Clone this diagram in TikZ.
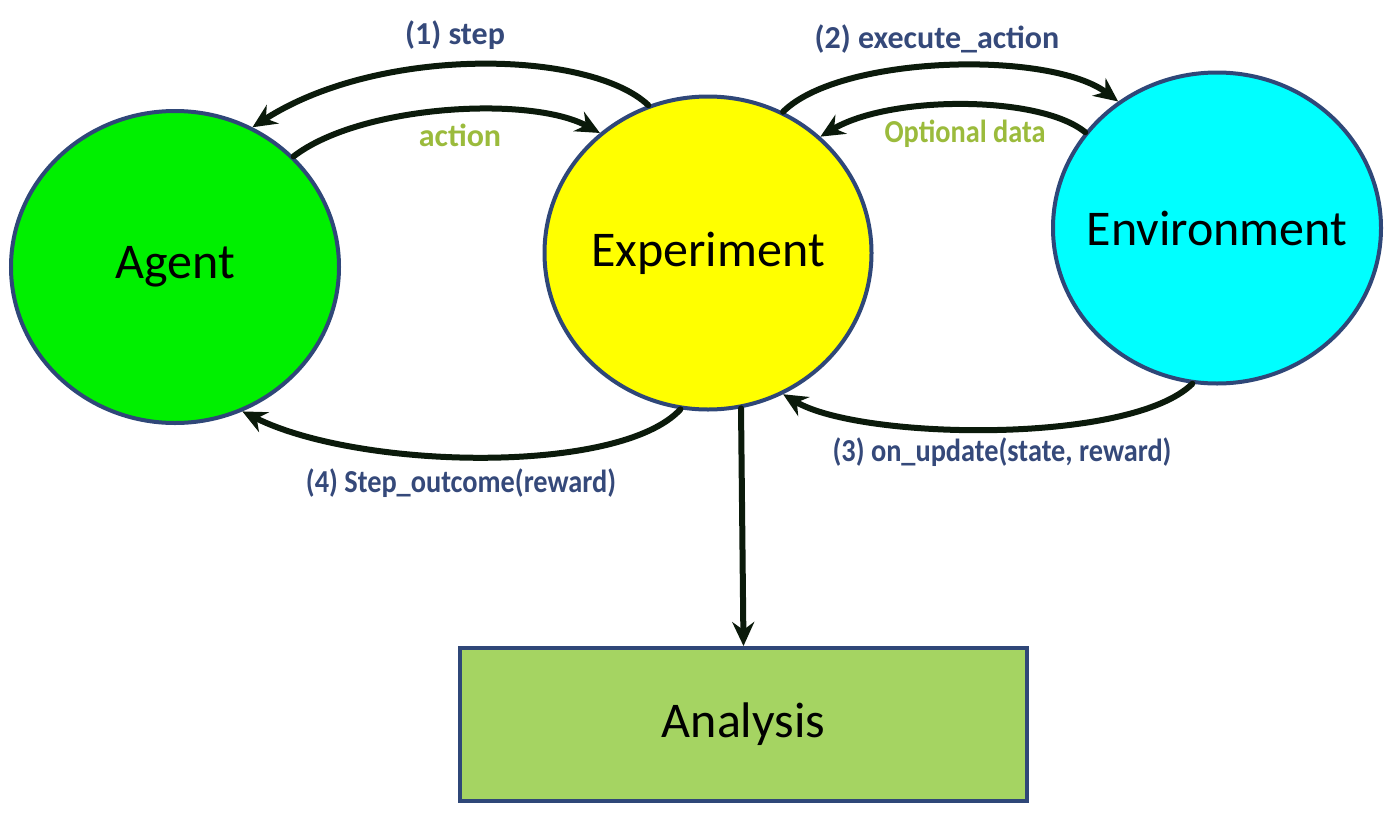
\documentclass[tikz,border=0pt]{standalone}
\usepackage{fontspec}
\setmainfont{Carlito}
\usetikzlibrary{shapes.geometric,arrows.meta}
\definecolor{lineblk}{HTML}{0B1A0B}
\definecolor{rimblue}{HTML}{2F4778}
\definecolor{lblblue}{HTML}{35497A}
\definecolor{lblgreen}{HTML}{9BBB3C}
\definecolor{agentgreen}{HTML}{00F000}
\definecolor{expyellow}{HTML}{FFFF00}
\definecolor{envcyan}{HTML}{00FFFF}
\definecolor{anagreen}{HTML}{A5D462}
\newcommand{\narrowtxt}[1]{\scalebox{0.885}[1]{#1}}
\newcommand{\zerow}[1]{\makebox[0pt]{#1}}
\tikzset{
  bubble/.style={ellipse, draw=rimblue, line width=4pt, inner sep=0pt,
    font=\fontsize{50}{60}\selectfont, text=black},
  anabox/.style={rectangle, draw=rimblue, line width=4pt, fill=anagreen,
    inner sep=0pt, font=\fontsize{50}{60}\selectfont, text=black},
  arr/.style={draw=lineblk, line width=6pt, line cap=round,
    -{Stealth[length=24pt,width=22pt,inset=8pt]}},
  bluelbl/.style={font=\bfseries\fontsize{32}{38}\selectfont, text=lblblue},
  greenlbl/.style={font=\bfseries\fontsize{32}{38}\selectfont, text=lblgreen},
}
\begin{document}
\begin{tikzpicture}[x=1pt,y=-1pt]
\useasboundingbox (0,0) rectangle (1400,822);
\fill[white] (0,0) rectangle (1400,822);

\node[bubble, fill=agentgreen, minimum width=328pt, minimum height=312pt] (agent) at (175,267) {\zerow{Agent}};
\node[bubble, fill=expyellow, minimum width=327pt, minimum height=313pt] (exp) at (708,253) {\zerow{Experiment}};
\node[bubble, fill=envcyan, minimum width=328pt, minimum height=311pt] (env) at (1217,228) {\zerow{Environment}};
\node[anabox, minimum width=567pt, minimum height=153pt] (ana) at (743.5,724.5) {Analysis};

% (1) step
\draw[arr] (exp.112) .. controls (590,50) and (380,45) .. (agent.61);
% action
\draw[arr] (agent.43) .. controls (360,105) and (530,95) .. (exp.132);
% (2) execute_action
\draw[arr] (exp.62) .. controls (840,55) and (1050,50) .. (env.128);
% Optional data
\draw[arr] (env.144) .. controls (1040,95) and (890,95) .. (exp.46);
% (3) on_update
\draw[arr] (env.261) .. controls (1130,445) and (860,440) .. (exp.298);
% (4) Step_outcome
\draw[arr] (exp.260) .. controls (620,475) and (360,470) .. (agent.295);
% to Analysis
\draw[arr] (exp.282) -- (ana.north);

\node[bluelbl] (l1) at (455,35) {(1) step};
\node[greenlbl] (la) at (460,135) {action};
\node[bluelbl] (l2) at (937,39) {(2) execute\_action};
\node[greenlbl] (lo) at (965,134) {\narrowtxt{Optional data}};
\node[bluelbl] (l3) at (1002,452) {\narrowtxt{(3) on\_update(state, reward)}};
\node[bluelbl] (l4) at (461,483) {\narrowtxt{(4) Step\_outcome(reward)}};
\end{tikzpicture}
\end{document}
